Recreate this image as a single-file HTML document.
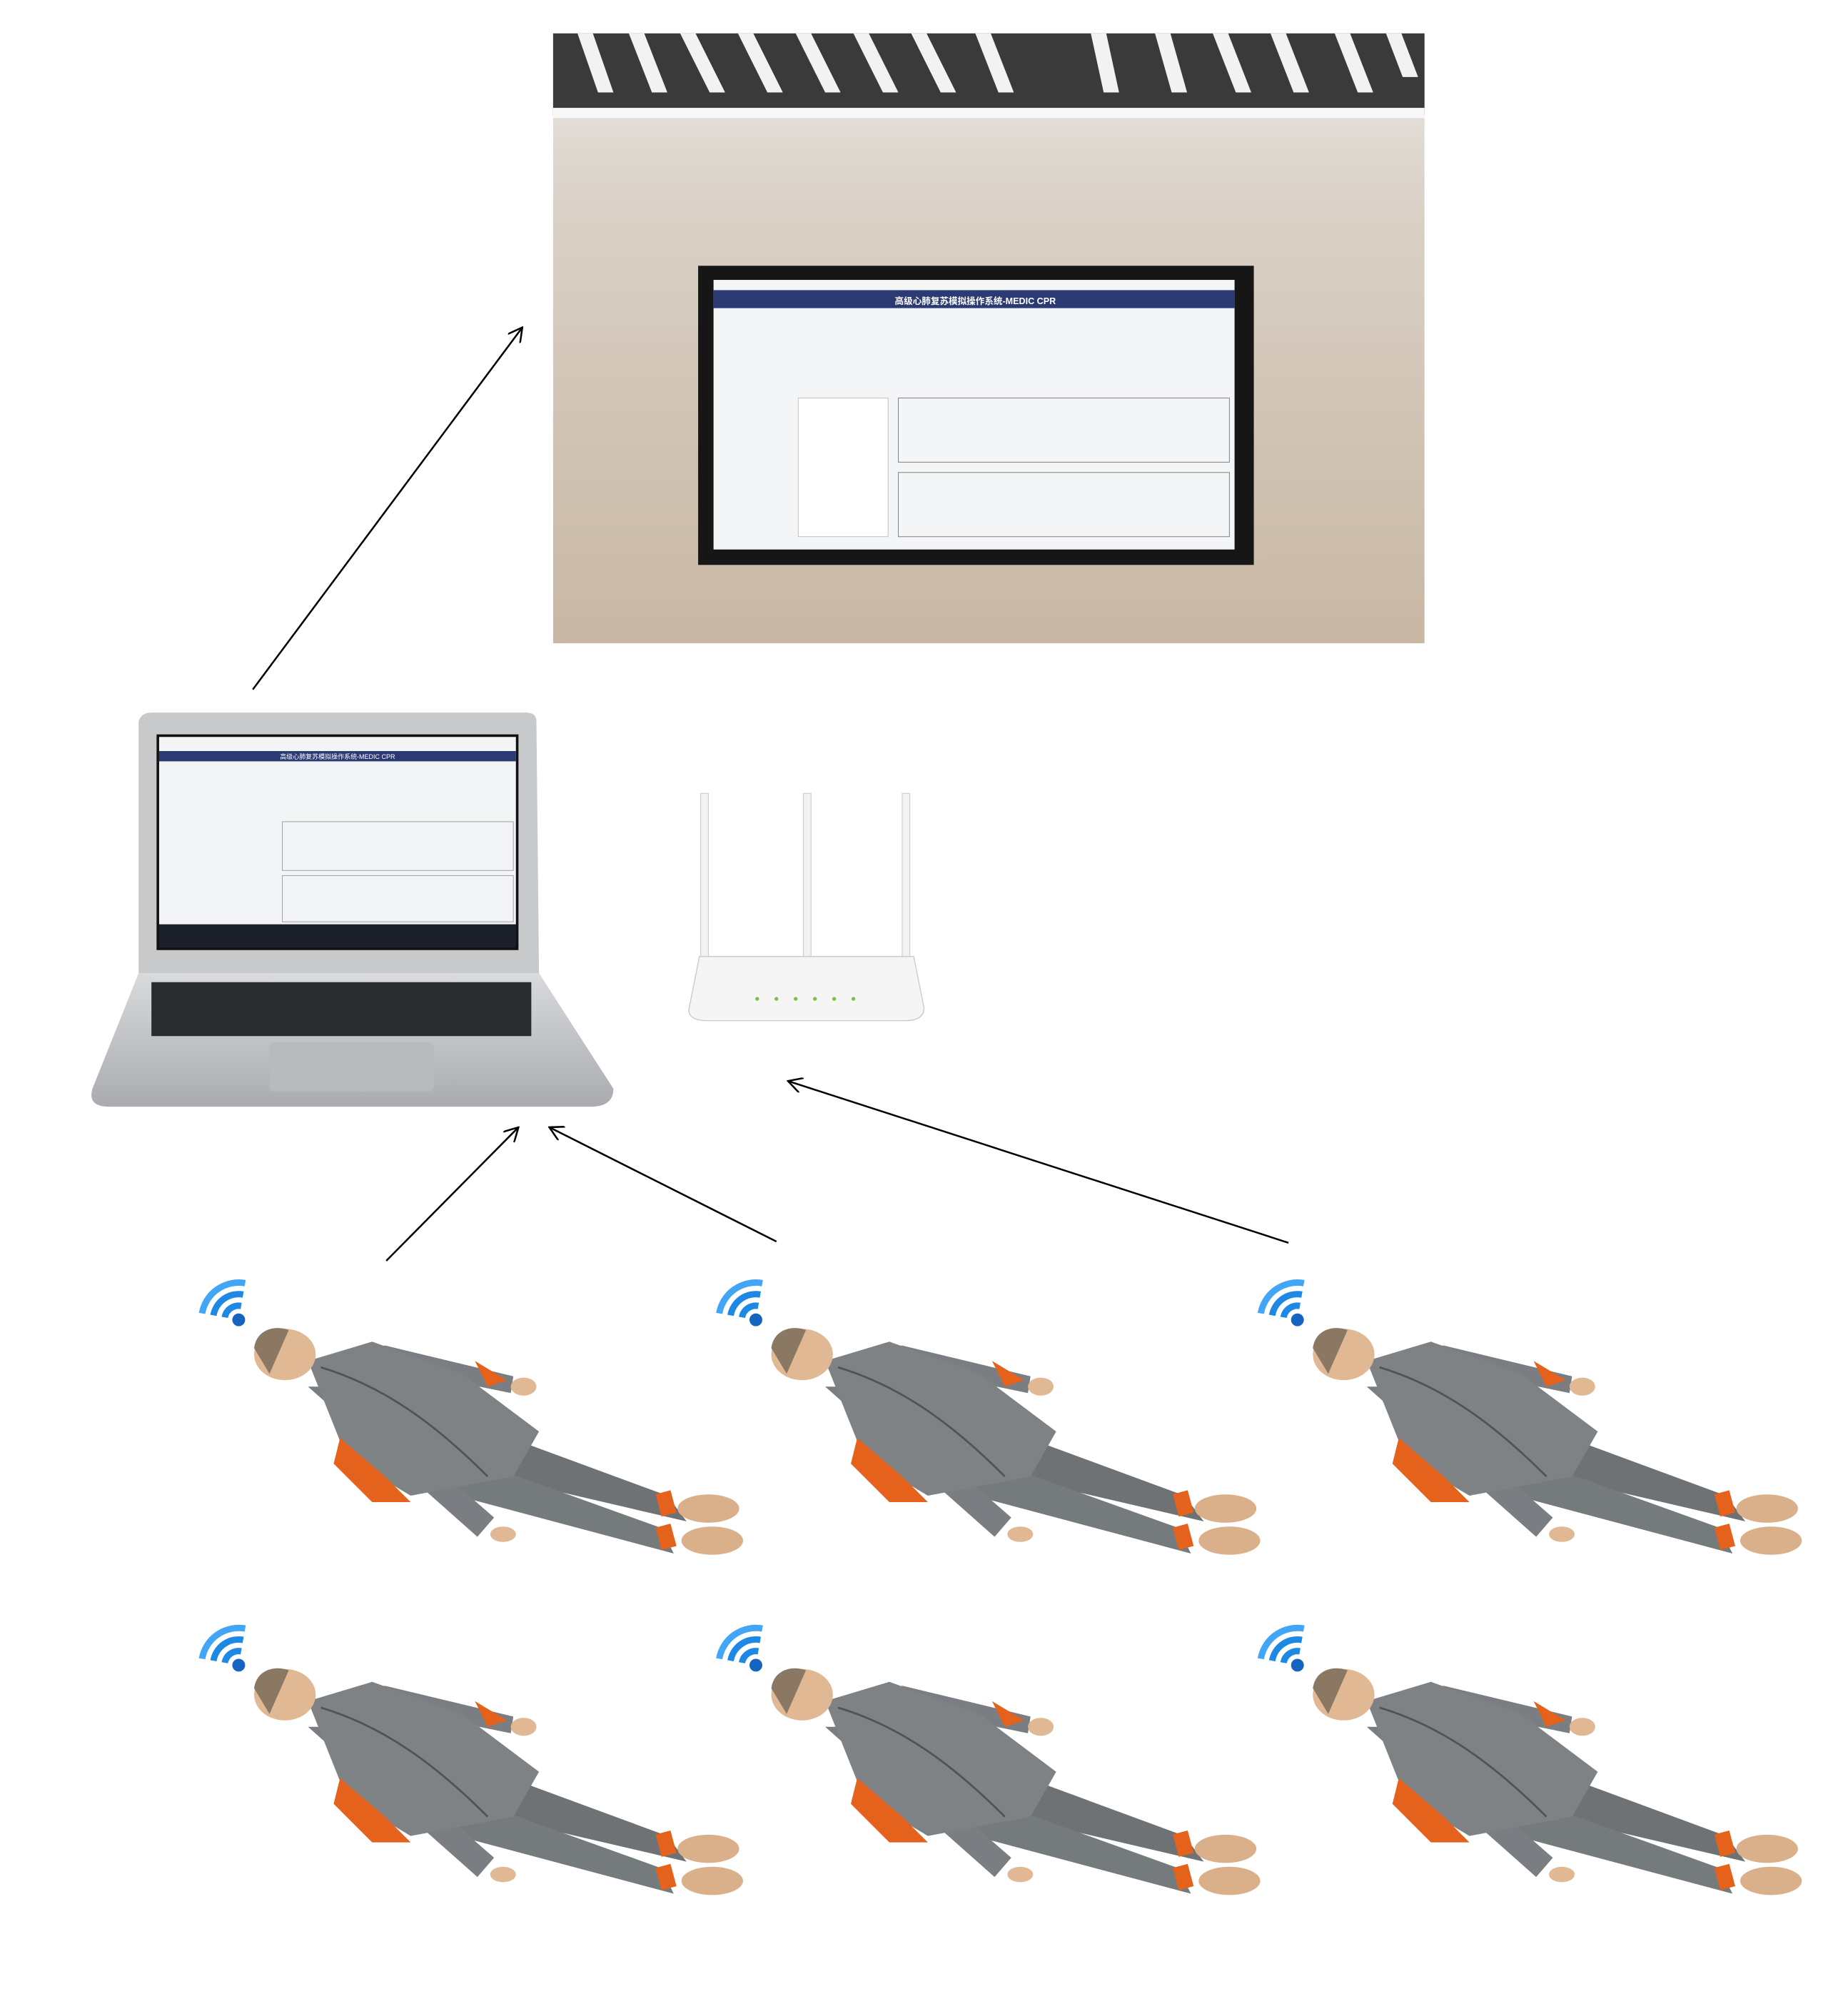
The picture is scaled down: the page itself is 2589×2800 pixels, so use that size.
<!DOCTYPE html>
<html><head><meta charset="utf-8"><style>
html,body{margin:0;padding:0;background:#fff;}
svg{display:block;}
</style></head><body>
<svg width="2589" height="2800" viewBox="0 0 1440 1557" preserveAspectRatio="none" xmlns="http://www.w3.org/2000/svg">
<defs>
<linearGradient id="wall" x1="0" y1="0" x2="0" y2="1">
<stop offset="0" stop-color="#e9e7e4"/><stop offset="0.3" stop-color="#d9d0c6"/><stop offset="1" stop-color="#c8b7a3"/>
</linearGradient>
<linearGradient id="lap" x1="0" y1="0" x2="0" y2="1">
<stop offset="0" stop-color="#d9dadc"/><stop offset="1" stop-color="#a9abaf"/>
</linearGradient>
<marker id="ah" markerWidth="12" markerHeight="12" refX="11" refY="6" orient="auto" markerUnits="userSpaceOnUse">
<path d="M0,0 L11,6 L0,12" fill="none" stroke="#000" stroke-width="1.4"/>
</marker>
<g id="wifi">
<circle cx="0" cy="0" r="5" fill="#1565c0"/>
<g transform="rotate(10)" fill="none" stroke-width="5">
<path d="M0,-11 A11,11 0 0 0 -11,0" stroke="#1e88e5"/>
<path d="M0,-20 A20,20 0 0 0 -20,0" stroke="#1e88e5"/>
<path d="M0,-29 A29,29 0 0 0 -29,0" stroke="#42a5f5"/>
</g>
</g>
<g id="man">
<path d="M330,1095 L520,1165 L535,1185 L320,1135 Z" fill="#6e7275"/>
<path d="M320,1120 L515,1190 L525,1210 L300,1150 Z" fill="#757a7d"/>
<rect x="513" y="1162" width="12" height="18" fill="#e5621c" transform="rotate(-15 519 1171)"/>
<rect x="513" y="1188" width="12" height="18" fill="#e5621c" transform="rotate(-15 519 1197)"/>
<ellipse cx="552" cy="1175" rx="24" ry="11" fill="#d9b08a"/>
<ellipse cx="555" cy="1200" rx="24" ry="11" fill="#d9b08a"/>
<path d="M250,1060 L300,1048 L400,1072 L398,1085 L300,1065 Z" fill="#7a7e82"/>
<ellipse cx="408" cy="1080" rx="10" ry="7" fill="#e0b994"/>
<path d="M240,1080 L268,1080 L385,1182 L372,1197 Z" fill="#7a7e82"/>
<ellipse cx="392" cy="1195" rx="10" ry="6" fill="#e0b994"/>
<path d="M240,1060 L290,1045 L360,1070 L420,1115 L400,1150 L320,1165 L270,1135 Z" fill="#7e8285"/>
<path d="M265,1120 L300,1150 L320,1170 L290,1170 L260,1140 Z" fill="#e5621c"/>
<path d="M370,1060 L395,1075 L380,1080 Z" fill="#e5621c"/>
<path d="M250,1065 C300,1080 340,1110 380,1150" stroke="#4e5356" stroke-width="1.5" fill="none"/>
<ellipse cx="222" cy="1055" rx="24" ry="20" fill="#e0b994"/>
<path d="M198,1050 C200,1035 215,1032 225,1036 L210,1070 Z" fill="#8a7863"/>
</g>
</defs>

<rect x="431" y="26" width="679" height="475" fill="url(#wall)"/>
<rect x="431" y="26" width="679" height="64" fill="#3a3a3a"/>
<g fill="#f2f2f2">
<polygon points="450,26 462,26 478,72 466,72"/><polygon points="490,26 502,26 520,72 508,72"/>
<polygon points="530,26 542,26 565,72 553,72"/><polygon points="575,26 587,26 610,72 598,72"/>
<polygon points="620,26 632,26 655,72 643,72"/><polygon points="665,26 677,26 700,72 688,72"/>
<polygon points="710,26 722,26 745,72 733,72"/><polygon points="760,26 772,26 790,72 778,72"/>
<polygon points="850,26 862,26 872,72 860,72"/><polygon points="900,26 912,26 925,72 913,72"/>
<polygon points="945,26 957,26 975,72 963,72"/><polygon points="990,26 1002,26 1020,72 1008,72"/>
<polygon points="1040,26 1052,26 1070,72 1058,72"/><polygon points="1080,26 1092,26 1105,60 1093,60"/>
</g>
<rect x="431" y="84" width="679" height="8" fill="#f8f8f8"/>
<rect x="544" y="207" width="433" height="233" fill="#161616"/>
<rect x="556" y="218" width="406" height="210" fill="#f4f5f7"/>
<rect x="556" y="226" width="406" height="14" fill="#2b3a73"/>
<text x="760" y="237" font-family="Liberation Sans, Noto Sans CJK SC, sans-serif" font-size="7" fill="#fff" text-anchor="middle" font-weight="bold">高级心肺复苏模拟操作系统-MEDIC CPR</text>
<rect x="700" y="310" width="258" height="50" fill="none" stroke="#888" stroke-width="0.6"/>
<rect x="700" y="368" width="258" height="50" fill="none" stroke="#888" stroke-width="0.6"/>
<rect x="622" y="310" width="70" height="108" fill="#fff" stroke="#bbb" stroke-width="0.5"/>

<path d="M108,562 Q110,555 118,555 L410,555 Q418,555 418,562 L420,758 L108,758 Z" fill="#c8c9cb"/>
<rect x="122" y="572" width="282" height="168" fill="#111"/>
<rect x="124" y="574" width="278" height="146" fill="#f3f4f6"/>
<rect x="124" y="585" width="278" height="8" fill="#2b3a73"/>
<text x="263" y="591" font-family="Liberation Sans, Noto Sans CJK SC, sans-serif" font-size="5" fill="#fff" text-anchor="middle">高级心肺复苏模拟操作系统-MEDIC CPR</text>
<rect x="124" y="720" width="278" height="18" fill="#1b1f2a"/>
<rect x="220" y="640" width="180" height="38" fill="none" stroke="#999" stroke-width="0.5"/>
<rect x="220" y="682" width="180" height="36" fill="none" stroke="#999" stroke-width="0.5"/>
<path d="M108,758 L420,758 L478,848 Q478,862 460,862 L85,862 Q68,862 72,848 Z" fill="url(#lap)"/>
<rect x="118" y="765" width="296" height="42" fill="#2a2b2e"/>
<rect x="210" y="812" width="128" height="38" rx="3" fill="#b9babd"/>

<rect x="546" y="618" width="6" height="130" fill="#f2f2f2" stroke="#ccc" stroke-width="0.6"/>
<rect x="626" y="618" width="6" height="130" fill="#f2f2f2" stroke="#ccc" stroke-width="0.6"/>
<rect x="703" y="618" width="6" height="130" fill="#f2f2f2" stroke="#ccc" stroke-width="0.6"/>
<path d="M545,745 L712,745 L720,785 Q720,795 705,795 L552,795 Q535,795 537,785 Z" fill="#f5f5f5" stroke="#ccc" stroke-width="0.8"/>
<g fill="#7cc04a"><circle cx="590" cy="778" r="1.5"/><circle cx="605" cy="778" r="1.5"/><circle cx="620" cy="778" r="1.5"/><circle cx="635" cy="778" r="1.5"/><circle cx="650" cy="778" r="1.5"/><circle cx="665" cy="778" r="1.5"/></g>

<g stroke="#000" stroke-width="1.4" fill="none" marker-end="url(#ah)">
<line x1="197" y1="537" x2="407" y2="255"/>
<line x1="301" y1="982" x2="404" y2="878"/>
<line x1="605" y1="967" x2="428" y2="878"/>
<line x1="1004" y1="968" x2="614" y2="842"/>
</g>

<use href="#man"/>
<use href="#man" transform="translate(403,0)"/>
<use href="#man" transform="translate(825,0)"/>
<use href="#man" transform="translate(0,265)"/>
<use href="#man" transform="translate(403,265)"/>
<use href="#man" transform="translate(825,265)"/>
<use href="#wifi" transform="translate(186,1028)"/>
<use href="#wifi" transform="translate(589,1028)"/>
<use href="#wifi" transform="translate(1011,1028)"/>
<use href="#wifi" transform="translate(186,1297)"/>
<use href="#wifi" transform="translate(589,1297)"/>
<use href="#wifi" transform="translate(1011,1297)"/>
</svg>
</body></html>
